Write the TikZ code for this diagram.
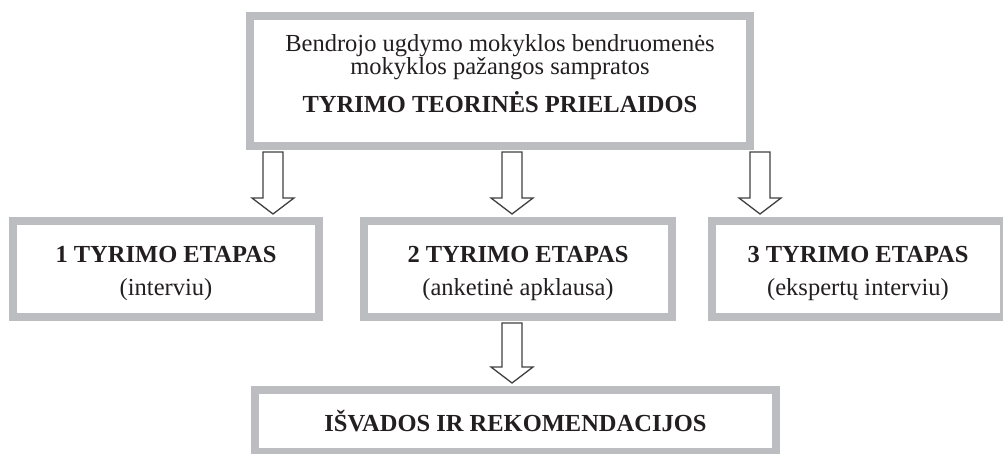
\documentclass[tikz,border=0pt]{standalone}
\usepackage{fontspec}
\setmainfont{Liberation Serif}
\usetikzlibrary{calc}

\definecolor{framegray}{RGB}{188,189,192}
\definecolor{inkblack}{RGB}{35,31,32}

\newcommand{\boxfont}{\fontsize{24.5}{23}\selectfont\setlength{\lineskiplimit}{-20pt}}

\tikzset{
  stagebox/.style={draw=framegray, line width=8pt, fill=white, align=center, inner sep=0pt,
    text=inkblack, font=\boxfont},
  arrowline/.style={draw=black!75, line width=1.3pt, fill=white, line join=miter},
}

% hollow block arrow: x position, upper node, lower node
\newcommand{\blockarrow}[3]{%
  \draw[arrowline] let \p1=(#2.south), \p2=(#3.north) in
    (#1pt-10pt,\y1-2pt) -- (#1pt-10pt,\y2+19pt) -- (#1pt-21pt,\y2+19pt) -- (#1pt,\y2+3pt)
    -- (#1pt+21pt,\y2+19pt) -- (#1pt+10pt,\y2+19pt) -- (#1pt+10pt,\y1-2pt) -- cycle;
}

\begin{document}
\begin{tikzpicture}[x=1pt,y=-1pt]
  \useasboundingbox (0,0) rectangle (1003,454);

  \node [stagebox, minimum width=500pt, minimum height=130pt] (premises) at (500,81)
    {Bendrojo ugdymo mokyklos bendruomenės\\ mokyklos pažangos sampratos\\[15pt]
     \textbf{TYRIMO TEORINĖS PRIELAIDOS}\\[-8pt]\mbox{}}; % top box

  \node [stagebox, minimum width=306pt, minimum height=96pt] (stage1) at (166,269)
    {\mbox{}\\[2pt]\textbf{1 TYRIMO ETAPAS}\\[10pt] (interviu)};
  \node [stagebox, minimum width=308pt, minimum height=96pt] (stage2) at (518,269)
    {\mbox{}\\[2pt]\textbf{2 TYRIMO ETAPAS}\\[10pt] (anketinė apklausa)};
  \node [stagebox, minimum width=292pt, minimum height=96pt] (stage3) at (858,269)
    {\mbox{}\\[2pt]\textbf{3 TYRIMO ETAPAS}\\[10pt] (ekspertų interviu)};

  \node [stagebox, minimum width=521pt, minimum height=62pt] (findings) at (515.5,421)
    {\textbf{IŠVADOS IR REKOMENDACIJOS}}; % bottom box

  \blockarrow{273}{premises}{stage1}
  \blockarrow{512}{premises}{stage2}
  \blockarrow{760}{premises}{stage3}
  \blockarrow{512}{stage2}{findings}
\end{tikzpicture}
\end{document}
